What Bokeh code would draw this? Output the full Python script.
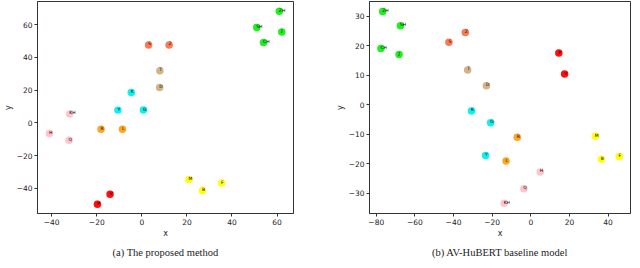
from bokeh.plotting import figure
from bokeh.layouts import row
from bokeh.models import ColumnDataSource, Range1d, FixedTicker, LinearAxis
from bokeh.embed import file_html
from bokeh.resources import INLINE
from bokeh.core.properties import value

phonemes = ["ZH", "SH", "J", "CH", "S", "Z", "T", "D", "K", "G", "Y",
            "R", "L", "H", "Q", "KH", "M", "B", "F", "P", "V"]
groups = ["post", "post", "post", "post", "alv", "alv", "stop", "stop", "vel", "vel", "vel",
          "liq", "liq", "back", "back", "back", "lab", "lab", "lab", "labred", "labred"]
group_colors = {"post": "#22ee22", "alv": "#f97a55", "stop": "#d2b48c", "vel": "#11f0f0",
                "liq": "#ffa520", "back": "#ffc4cc", "lab": "#ffff10", "labred": "#ff1010"}

# (a) The proposed method
prop_x = [61.0, 51.0, 62.1, 54.0, 3.0, 12.1, 8.0, 7.9, -4.7, 0.7, -10.6,
          -18.1, -8.6, -41.0, -32.3, -32.0, 20.9, 26.9, 35.4, -19.7, -14.1]
prop_y = [68.1, 58.2, 55.5, 49.0, 47.6, 47.6, 31.9, 21.6, 18.6, 7.8, 7.8,
          -3.9, -3.9, -6.5, -10.6, 5.5, -34.5, -41.2, -36.7, -49.6, -43.5]

# (b) AV-HuBERT baseline model
base_x = [-76.7, -67.5, -68.2, -77.6, -42.4, -33.9, -32.7, -23.0, -30.7, -20.8, -23.4,
          -7.0, -12.8, 4.9, -3.6, -13.8, 33.4, 36.5, 45.7, 14.5, 17.5]
base_y = [31.6, 26.8, 17.0, 19.1, 21.2, 24.5, 11.8, 6.4, -2.1, -6.1, -17.2,
          -11.0, -19.1, -22.8, -28.5, -33.4, -10.7, -18.5, -17.6, 17.5, 10.4]

a_xticks = [-40, -20, 0, 20, 40, 60]
a_yticks = [-40, -20, 0, 20, 40, 60]
b_xticks = [-80, -60, -40, -20, 0, 20, 40]
b_yticks = [-30, -20, -10, 0, 10, 20, 30]

captions = ["(a) The proposed method", "(b) AV-HuBERT baseline model"]

colors = [group_colors[g] for g in groups]


def fmt(ticks):
    return {t: (("\u2212" + str(abs(t))) if t < 0 else str(t)) for t in ticks}


def panel(xs, ys, xr, yr, xt, yt, caption, width, bl, br):
    p = figure(width=width, height=260, output_backend="svg", toolbar_location=None,
               x_range=Range1d(*xr), y_range=Range1d(*yr),
               min_border_left=bl, min_border_right=br, min_border_top=1,
               min_border_bottom=30)
    p.grid.visible = False
    p.outline_line_color = "#333333"
    p.outline_line_width = 1
    src = ColumnDataSource(dict(x=xs, y=ys, label=phonemes, color=colors))
    p.scatter("x", "y", source=src, size=7.5, fill_color="color", line_color=None)
    p.text("x", "y", text="label", source=src, text_font=value("DejaVu Sans"),
           text_font_size="4.5px", text_color="black", text_baseline="bottom",
           x_offset=-0.5, y_offset=1.5)
    for ax, ticks in ((p.xaxis[0], xt), (p.yaxis[0], yt)):
        ax.ticker = FixedTicker(ticks=ticks)
        ax.major_label_overrides = fmt(ticks)
        ax.minor_tick_line_color = None
        ax.major_tick_in = 0
        ax.major_tick_out = 3
        ax.axis_line_color = "#333333"
        ax.major_tick_line_color = "#333333"
        ax.major_label_text_font = "DejaVu Sans"
        ax.major_label_text_font_size = "7.5px"
        ax.major_label_text_color = "#222222"
        ax.major_label_standoff = 2
        ax.axis_label_text_font = "DejaVu Sans"
        ax.axis_label_text_font_size = "8px"
        ax.axis_label_text_font_style = "normal"
        ax.axis_label_text_color = "#222222"
        ax.axis_label_standoff = 1
    p.xaxis[0].axis_label = "x"
    p.yaxis[0].axis_label = "y"
    cap = LinearAxis(ticker=FixedTicker(ticks=[]), axis_line_color=None,
                     major_tick_line_color=None, minor_tick_line_color=None,
                     major_label_text_font_size="0px", major_tick_out=0,
                     major_tick_in=0, major_label_standoff=0,
                     axis_label=caption, axis_label_text_font="Liberation Serif",
                     axis_label_text_font_size="10.5px",
                     axis_label_text_font_style="normal",
                     axis_label_text_color="#222222", axis_label_standoff=6)
    p.add_layout(cap, "below")
    return p


p1 = panel(prop_x, prop_y, (-46.3, 67.3), (-55.3, 74.1), a_xticks, a_yticks,
           captions[0], 316, 31, 23)
p2 = panel(base_x, base_y, (-83.5, 51.6), (-36.9, 35.0), b_xticks, b_yticks,
           captions[1], 316, 53, 2)

layout = row(p1, p2)
open("out.html", "w").write(file_html(layout, INLINE))
